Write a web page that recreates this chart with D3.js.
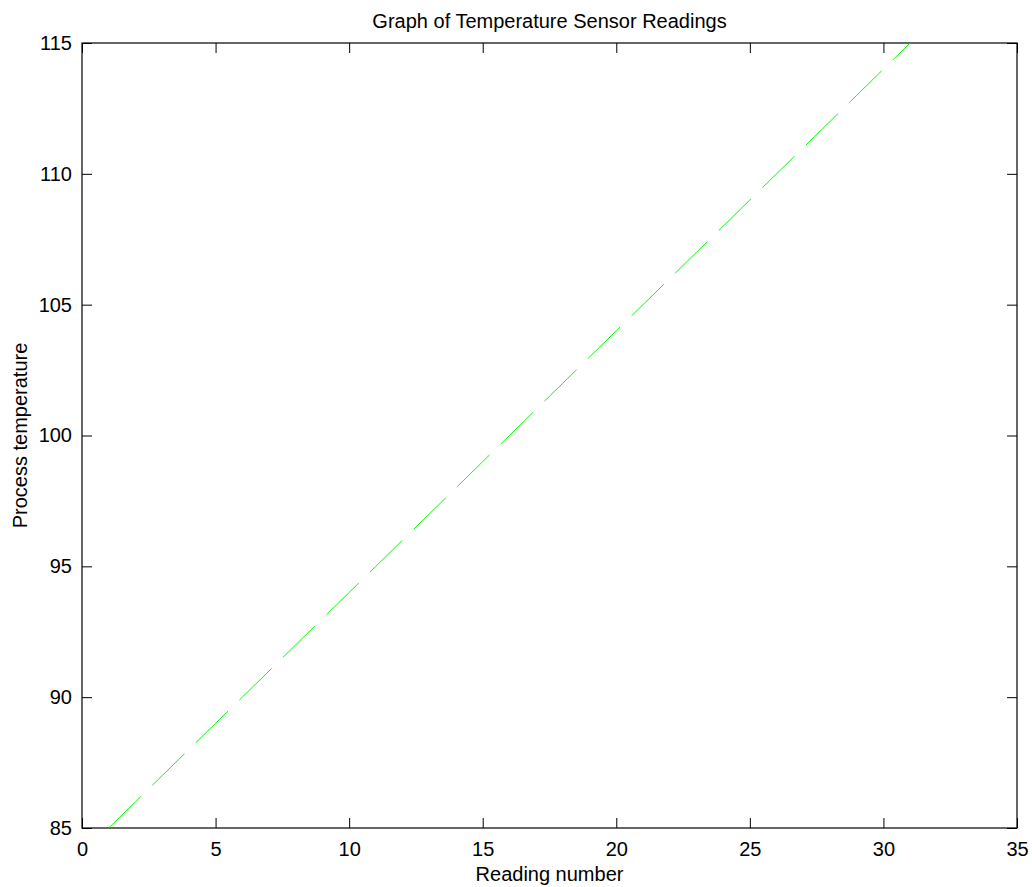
<!doctype html>
<html>
<head>
  <script src="https://cdnjs.cloudflare.com/ajax/libs/d3/7.8.5/d3.min.js"></script>
  <style>
    body { margin: 0; background: #fff; }
    text { font-family: "Liberation Sans", Arial, sans-serif; fill: #000; }
  </style>
</head>
<body>
  <svg id="chart" width="1032" height="887"></svg>
  <script>
    // reading number vs process temperature
    var readings = [1, 2, 3, 4, 5, 6, 7, 8, 9, 10, 11, 12, 13, 14, 15, 16,
      17, 18, 19, 20, 21, 22, 23, 24, 25, 26, 27, 28, 29, 30, 31];
    var temps = [85, 86, 87, 88, 89, 90, 91, 92, 93, 94, 95, 96, 97, 98, 99, 100,
      101, 102, 103, 104, 105, 106, 107, 108, 109, 110, 111, 112, 113, 114, 115];
    var xTicks = [0, 5, 10, 15, 20, 25, 30, 35];
    var yTicks = [85, 90, 95, 100, 105, 110, 115];

    // plot box (note: "top" is a reserved global in browsers)
    var boxL = 82, boxR = 1017, boxT = 43, boxB = 828;
    var svg = d3.select("#chart");

    var x = d3.scaleLinear().domain([0, 35]).range([boxL, boxR]);
    var y = d3.scaleLinear().domain([85, 115]).range([boxB, boxT]);

    // box + inward ticks on all four sides
    svg.append("g")
      .attr("transform", "translate(0," + boxB + ")")
      .call(d3.axisBottom(x).tickValues(xTicks).tickSizeInner(-10).tickSizeOuter(0).tickPadding(14))
      .call(g => g.select(".domain").remove());
    svg.append("g")
      .attr("transform", "translate(0," + boxT + ")")
      .call(d3.axisTop(x).tickValues(xTicks).tickSizeInner(-10).tickSizeOuter(0).tickFormat(""))
      .call(g => g.select(".domain").remove());
    svg.append("g")
      .attr("transform", "translate(" + boxL + ",0)")
      .call(d3.axisLeft(y).tickValues(yTicks).tickSizeInner(-10).tickSizeOuter(0).tickPadding(10))
      .call(g => g.select(".domain").remove());
    svg.append("g")
      .attr("transform", "translate(" + boxR + ",0)")
      .call(d3.axisRight(y).tickValues(yTicks).tickSizeInner(-10).tickSizeOuter(0).tickFormat(""))
      .call(g => g.select(".domain").remove());

    svg.selectAll(".tick text")
      .style("font-size", "20px")
      .style("font-family", "Liberation Sans, Arial, sans-serif");
    svg.selectAll(".tick line").attr("stroke", "#000");

    svg.append("rect")
      .attr("x", boxL).attr("y", boxT)
      .attr("width", boxR - boxL).attr("height", boxB - boxT)
      .attr("fill", "none").attr("stroke", "#000").attr("stroke-width", 1.2);

    var line = d3.line()
      .x((d, i) => x(readings[i]))
      .y(d => y(d));

    svg.append("path")
      .datum(temps)
      .attr("d", line)
      .attr("fill", "none")
      .attr("stroke", "#00ff00")
      .attr("stroke-width", 1)
      .attr("stroke-dasharray", "45,16");

    svg.append("text")
      .attr("x", (boxL + boxR) / 2).attr("y", 28)
      .attr("text-anchor", "middle")
      .style("font-size", "20px")
      .text("Graph of Temperature Sensor Readings");

    svg.append("text")
      .attr("x", (boxL + boxR) / 2).attr("y", 881)
      .attr("text-anchor", "middle")
      .style("font-size", "20px")
      .text("Reading number");

    svg.append("text")
      .attr("transform", "translate(27," + (boxT + boxB) / 2 + ") rotate(-90)")
      .attr("text-anchor", "middle")
      .style("font-size", "20px")
      .text("Process temperature");
  </script>
</body>
</html>
